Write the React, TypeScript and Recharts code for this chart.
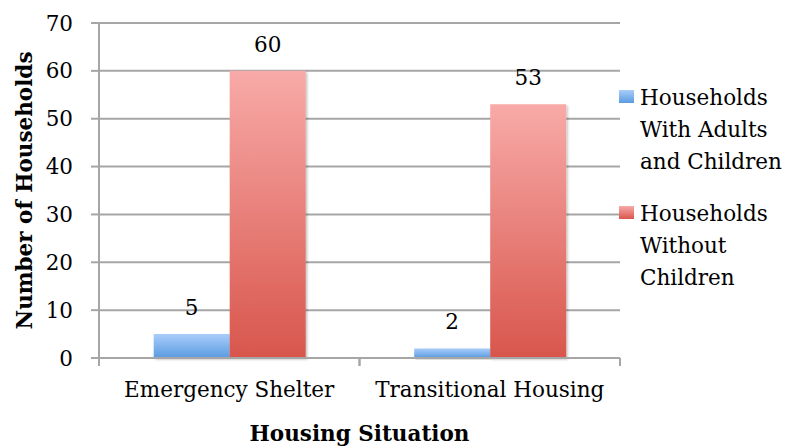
import { BarChart, Bar, XAxis, YAxis, CartesianGrid, Legend, LabelList } from "recharts";

const categories = ["Emergency Shelter", "Transitional Housing"];
const withAdultsAndChildren = [5, 2];
const withoutChildren = [60, 53];
const yTicks = [0, 10, 20, 30, 40, 50, 60, 70];
const legendLines = [
  ["Households", "With Adults", "and Children"],
  ["Households", "Without", "Children"],
];

const data = categories.map((category, i) => ({
  category,
  withAdults: withAdultsAndChildren[i],
  without: withoutChildren[i],
}));

const font = "'DejaVu Serif', serif";
const grey = "#a6a6a6";
const fs = 21.5;
const xTickSize = 8;
const xTickMargin = 16;

const swatches = [
  "linear-gradient(#a9cdfa, #5a9be0)",
  "linear-gradient(#f8aaa8, #d8564c)",
];

// category label plus the tick marks on the band edges (Excel style)
const CategoryTick = (props: any) => {
  const { x, y, payload } = props;
  const half = payload.offset || 0;
  const top = y - xTickSize - xTickMargin;
  return (
    <g>
      <line x1={x - half} x2={x - half} y1={top} y2={top + xTickSize} stroke={grey} strokeWidth={2} />
      <line x1={x + half} x2={x + half} y1={top} y2={top + xTickSize} stroke={grey} strokeWidth={2} />
      <text x={x} y={y} dy="0.71em" textAnchor="middle" fill="#000" fontSize={fs} fontFamily={font}>
        {payload.value}
      </text>
    </g>
  );
};

const renderLegend = () => (
  <div style={{ fontFamily: font, fontSize: fs, lineHeight: "32px", color: "#000", whiteSpace: "nowrap" }}>
    {legendLines.map((lines, i) => (
      <div key={i} style={{ display: "flex", marginBottom: 20 }}>
        <div style={{ width: 15, height: 13, background: swatches[i], marginTop: 8, marginRight: 6, flex: "none" }} />
        <div>
          {lines.map((l) => (
            <div key={l}>{l}</div>
          ))}
        </div>
      </div>
    ))}
  </div>
);

export default function App() {
  return (
    <div style={{ position: "absolute", left: 0, top: 0, background: "#fff" }}>
      <BarChart
        width={795}
        height={448}
        data={data}
        margin={{ top: 23, right: 175, bottom: 40, left: 0 }}
        barCategoryGap="21%"
        barGap={0}
      >
        <defs>
          <linearGradient id="blueGrad" x1="0" y1="0" x2="0" y2="1">
            <stop offset="0%" stopColor="#a9cdfa" />
            <stop offset="100%" stopColor="#5a9be0" />
          </linearGradient>
          <linearGradient id="redGrad" x1="0" y1="0" x2="0" y2="1">
            <stop offset="0%" stopColor="#f8aaa8" />
            <stop offset="100%" stopColor="#d8564c" />
          </linearGradient>
          <filter id="shadow" x="-10%" y="-10%" width="130%" height="130%">
            <feDropShadow dx="1.5" dy="1.5" stdDeviation="1.2" floodColor="#000" floodOpacity="0.25" />
          </filter>
        </defs>
        <CartesianGrid vertical={false} stroke={grey} strokeWidth={2} />
        <XAxis
          dataKey="category"
          height={50}
          stroke={grey}
          strokeWidth={2}
          tickLine={false}
          tickSize={xTickSize}
          tickMargin={xTickMargin}
          tick={<CategoryTick />}
          label={{
            value: "Housing Situation",
            position: "bottom",
            offset: 18,
            fill: "#000",
            fontSize: fs,
            fontWeight: "bold",
            fontFamily: font,
          }}
        />
        <YAxis
          width={99}
          domain={[0, 70]}
          ticks={yTicks}
          interval={0}
          stroke={grey}
          strokeWidth={2}
          tickSize={8}
          tickMargin={18}
          tick={{ fill: "#000", fontSize: fs, fontFamily: font }}
          label={{
            value: "Number of Households",
            angle: -90,
            position: "insideLeft",
            offset: 24,
            fill: "#000",
            fontSize: fs,
            fontWeight: "bold",
            fontFamily: font,
            style: { textAnchor: "middle" },
          }}
        />
        <Legend
          layout="horizontal"
          verticalAlign="middle"
          align="center"
          content={renderLegend}
          wrapperStyle={{ position: "absolute", left: 619, top: 82, width: 176 }}
        />
        <Bar dataKey="withAdults" name="Households With Adults and Children" fill="url(#blueGrad)" filter="url(#shadow)" isAnimationActive={false}>
          <LabelList dataKey="withAdults" position="top" offset={19} fill="#000" fontSize={fs} fontFamily={font} />
        </Bar>
        <Bar dataKey="without" name="Households Without Children" fill="url(#redGrad)" filter="url(#shadow)" isAnimationActive={false}>
          <LabelList dataKey="without" position="top" offset={19} fill="#000" fontSize={fs} fontFamily={font} />
        </Bar>
      </BarChart>
    </div>
  );
}
